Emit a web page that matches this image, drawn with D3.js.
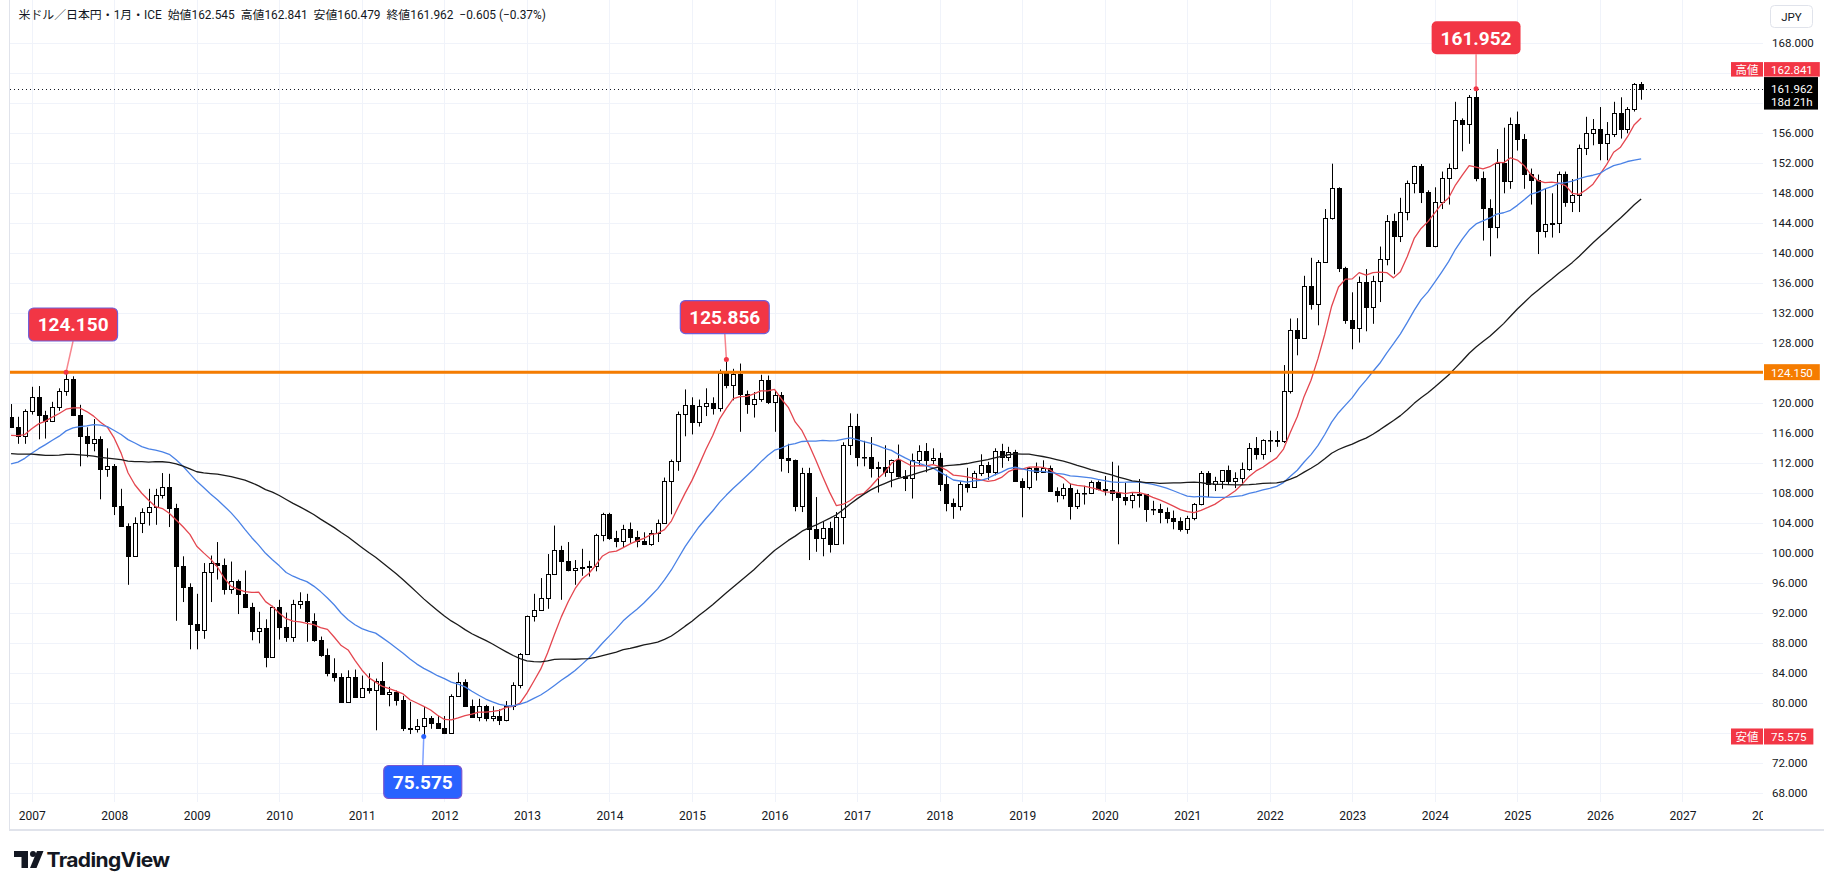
<!DOCTYPE html>
<html lang="ja"><head><meta charset="utf-8">
<script src="https://cdn.jsdelivr.net/npm/d3@7/dist/d3.min.js"></script>
<style>
html,body{margin:0;padding:0;background:#ffffff;overflow:hidden;}
svg{display:block;font-family:Roboto,"Noto Sans CJK JP",sans-serif;}
</style></head><body>
<svg id="chart" width="1824" height="890"></svg>
<script>
// ================= DATA (monthly USD/JPY, Oct 2006 – Jul 2026) =================
const firstMonth = new Date(2006, 9, 1);
const opens = [
118.2,116.9,115.7,
119.0,120.8,118.5,117.7,119.5,121.6,123.2,118.4,115.7,114.7,115.3,111.2,
111.7,106.3,103.7,99.7,104.0,105.5,106.2,107.8,108.8,106.0,98.3,95.5,
90.6,89.8,97.5,98.7,98.4,95.3,96.3,94.6,92.8,89.7,90.0,86.2,
92.9,90.2,88.8,93.3,93.7,91.0,88.4,86.4,84.0,83.5,80.2,83.5,
80.9,82.1,81.8,83.0,81.2,81.5,80.5,76.7,76.6,77.0,78.1,77.4,
76.7,76.1,81.0,82.8,79.6,78.2,79.6,78.0,78.3,77.8,79.7,82.4,
86.6,91.6,92.5,94.1,97.3,100.5,99.0,97.8,98.1,98.2,98.3,102.4,
105.2,102.0,101.7,103.2,102.2,101.6,101.3,102.7,104.1,109.6,112.3,118.6,
119.8,117.5,119.6,120.1,119.4,124.1,122.5,123.9,121.2,119.9,120.6,123.1,
120.2,121.1,112.7,112.5,106.3,110.7,103.3,102.1,103.4,101.3,104.8,114.5,
117.0,112.8,112.8,111.4,111.5,110.8,112.4,110.3,110.0,112.5,113.6,112.5,
112.7,109.2,106.7,106.3,109.3,108.8,110.7,111.8,110.9,113.7,112.9,113.5,
109.7,108.9,111.4,110.8,111.4,108.3,107.8,108.7,106.3,108.0,108.0,109.5,
108.6,108.4,108.1,107.5,107.1,107.8,107.9,105.9,105.9,105.5,104.7,104.3,
103.3,104.7,106.6,110.7,109.3,109.6,111.1,109.7,110.0,111.3,114.0,113.2,
115.1,115.1,115.0,121.7,129.8,128.7,135.7,133.3,138.9,144.7,148.7,138.1,
131.1,130.1,136.2,132.8,136.3,139.3,144.3,142.3,145.5,149.4,151.7,148.2,
141.0,146.9,150.0,151.4,157.8,157.3,160.9,150.0,146.1,143.5,152.0,149.7,
157.2,155.2,150.6,149.8,143.0,143.9,144.1,150.6,146.9,147.8,154.0,156.1,
156.6,154.7,155.9,158.7,156.6,159.2,162.545];
const highs = [
119.9,118.2,119.2,
122.2,122.3,119.0,120.2,122.0,124.15,123.6,119.8,116.8,117.9,115.6,114.0,
111.9,108.6,104.0,104.8,106.0,108.6,108.6,110.7,110.6,106.6,99.6,96.0,
94.6,98.7,99.7,101.5,99.3,98.9,96.5,97.7,93.4,92.2,91.2,93.0,
93.8,92.1,93.8,94.8,94.6,92.0,88.9,87.3,86.0,84.0,84.4,84.5,
83.7,84.0,83.3,85.5,82.2,81.7,81.0,80.2,77.9,79.5,78.3,78.3,
78.3,81.2,84.1,83.2,80.5,80.6,79.8,79.6,79.2,80.3,82.8,86.7,
91.7,94.6,96.7,99.9,103.7,101.0,101.5,99.1,100.6,99.0,102.6,105.4,
105.4,103.0,103.8,104.1,103.0,102.8,103.1,104.5,110.1,112.5,118.9,121.85,
120.8,120.5,122.0,120.8,124.5,125.856,124.6,125.3,121.7,121.5,123.8,123.7,
121.7,121.5,114.6,112.5,111.4,111.4,107.5,104.3,104.2,105.5,114.8,118.66,
118.6,115.0,115.5,112.2,114.4,112.5,114.5,111.1,113.3,114.4,114.7,114.0,
113.4,110.5,107.3,109.6,111.4,111.0,113.2,112.2,114.0,114.6,114.2,113.8,
110.0,111.5,112.1,112.4,111.7,108.8,109.3,109.3,108.5,109.0,109.7,109.7,
110.3,112.2,111.7,109.4,108.1,109.9,107.9,107.0,106.6,106.1,105.7,104.8,
105.0,106.7,110.97,110.96,110.2,111.1,111.7,110.8,112.1,114.7,115.5,115.2,
116.35,116.3,125.1,131.3,131.35,137.0,139.4,139.1,145.9,151.95,148.8,138.2,
134.8,136.9,137.9,137.0,140.9,145.1,145.3,147.4,149.7,151.7,151.9,148.4,
148.8,150.9,151.97,160.2,157.99,161.1,161.952,150.9,147.2,153.9,156.75,158.1,
158.9,155.9,151.3,150.5,148.6,148.0,150.9,150.9,149.9,154.5,158.2,157.9,
159.5,157.5,160.2,160.8,159.5,162.7,162.841];
const lows = [
116.7,114.6,114.6,
118.5,115.2,115.3,117.5,119.0,121.0,118.3,111.6,112.8,113.6,107.2,110.2,
105.1,103.6,95.8,99.6,102.7,103.7,103.8,107.3,103.5,91.0,93.5,87.2,
87.2,88.6,93.5,96.5,94.5,94.6,91.9,92.7,88.4,88.0,84.8,86.2,
88.5,88.2,88.2,92.6,88.2,88.2,86.2,83.6,82.9,80.2,80.2,80.9,
80.9,81.3,76.4,81.2,79.6,79.7,76.3,75.9,76.1,75.575,76.6,76.6,
75.9,76.1,80.9,79.6,78.2,77.6,77.6,77.6,77.1,77.6,79.1,82.0,
86.5,90.9,92.4,92.6,97.1,93.8,97.6,95.8,97.0,96.9,97.6,101.6,
101.8,100.8,100.8,101.4,100.8,101.1,101.0,101.5,104.0,105.2,111.0,115.6,
115.85,116.9,118.3,118.5,118.9,122.0,120.4,116.2,118.6,118.1,120.2,119.9,
116.2,110.9,110.7,105.6,105.5,99.1,100.2,99.6,100.1,101.2,101.2,113.1,
111.6,111.6,110.1,108.1,110.2,108.8,110.1,108.3,107.3,111.7,110.8,111.9,
108.3,105.6,104.6,105.7,108.1,108.8,110.3,109.8,110.4,111.4,112.3,109.6,
104.8,108.5,109.7,110.8,108.3,106.8,107.2,104.5,105.9,106.5,107.9,108.4,
107.7,107.0,101.2,106.4,106.0,106.1,104.2,105.1,104.0,104.0,103.2,102.9,
102.6,104.4,106.4,107.5,108.3,108.6,109.1,108.7,109.1,111.0,112.5,112.5,
113.5,114.2,114.7,121.3,126.4,128.7,132.5,130.4,138.8,144.5,137.5,130.6,
127.2,128.1,129.6,130.6,133.5,138.4,137.2,141.5,144.4,148.0,146.7,140.9,
140.8,145.9,146.5,151.2,153.6,154.6,149.6,141.7,139.6,142.0,148.0,148.6,
153.7,148.6,146.5,139.9,142.1,142.1,142.7,146.2,145.5,145.5,153.1,154.4,
152.4,152.4,155.5,155.3,156.0,158.9,160.479];
const closes = [
116.9,115.7,119.0,
120.8,118.5,117.7,119.5,121.6,123.2,118.4,115.7,114.7,115.3,111.2,111.7,
106.3,103.7,99.7,104.0,105.5,106.2,107.8,108.8,106.0,98.3,95.5,90.6,
89.8,97.5,98.7,98.4,95.3,96.3,94.6,92.8,89.7,90.0,86.2,92.9,
90.2,88.8,93.3,93.7,91.0,88.4,86.4,84.0,83.5,80.2,83.5,80.9,
82.1,81.8,83.0,81.2,81.5,80.5,76.7,76.6,77.0,78.1,77.4,76.7,
76.1,81.0,82.8,79.6,78.2,79.6,78.0,78.3,77.8,79.7,82.4,86.6,
91.6,92.5,94.1,97.3,100.5,99.0,97.8,98.1,98.2,98.3,102.4,105.2,
102.0,101.7,103.2,102.2,101.6,101.3,102.7,104.1,109.6,112.3,118.6,119.8,
117.5,119.6,120.1,119.4,124.1,122.5,123.9,121.2,119.9,120.6,123.1,120.2,
121.1,112.7,112.5,106.3,110.7,103.3,102.1,103.4,101.3,104.8,114.5,117.0,
112.8,112.8,111.4,111.5,110.8,112.4,110.3,110.0,112.5,113.6,112.5,112.7,
109.2,106.7,106.3,109.3,108.8,110.7,111.8,110.9,113.7,112.9,113.5,109.7,
108.9,111.4,110.8,111.4,108.3,107.8,108.7,106.3,108.0,108.0,109.5,108.6,
108.4,108.1,107.5,107.1,107.8,107.9,105.9,105.9,105.5,104.7,104.3,103.3,
104.7,106.6,110.7,109.3,109.6,111.1,109.7,110.0,111.3,114.0,113.2,115.1,
115.1,115.0,121.7,129.8,128.7,135.7,133.3,138.9,144.7,148.7,138.1,131.1,
130.1,136.2,132.8,136.3,139.3,144.3,142.3,145.5,149.4,151.7,148.2,141.0,
146.9,150.0,151.4,157.8,157.3,160.9,150.0,146.1,143.5,152.0,149.7,157.2,
155.2,150.6,149.8,143.0,143.9,144.1,150.6,146.9,147.8,154.0,156.1,156.6,
154.7,155.9,158.7,156.6,159.2,162.567,161.962];
// monthly closes Jul 2002 – Sep 2006 (before the first drawn bar), used only for the moving averages
const priorCloses = [
119.8,118.4,121.8,122.5,122.5,118.7,
119.9,118.0,118.1,119.1,119.3,119.8,120.0,116.8,111.4,109.6,109.4,107.2,
105.9,109.3,104.2,110.4,109.5,108.8,111.7,109.2,110.1,105.8,103.2,102.6,
103.6,104.6,107.2,104.9,108.3,110.8,112.5,110.6,113.5,116.4,119.8,117.8,
117.3,115.8,117.8,113.9,112.6,114.4,114.6,117.3,118.1];
const maPeriods = [9, 26, 52];
const maColors = ["#e4464f", "#4a82e6", "#1b1b1b"];
const yearLabels = ["2007","2008","2009","2010","2011","2012","2013","2014","2015","2016","2017","2018","2019","2020","2021","2022","2023","2024","2025","2026","2027","2028"];
const priceTicks = [68,72,76,80,84,88,92,96,100,104,108,112,116,120,124,128,132,136,140,144,148,152,156,160,164,168];
const hiddenTicks = [76,124,160,164];
const refLevel = 124.150;
const calloutLabels = ["124.150","125.856","161.952","75.575"];
const calloutMonths = ["2007-06","2015-06","2024-07","2011-10"];
const calloutPrices = [124.150,125.856,161.952,75.575];
const symbolTitle = "米ドル／日本円・1月・ICE";
const countdown = "18d 21h";

// ================= LAYOUT =================
const svg = d3.select("#chart");
const plot = {left:10, right:1763, top:0, bottom:802};
const firstX = 11.07, barStep = 6.878;
const months = d3.timeMonth.range(firstMonth, d3.timeMonth.offset(firstMonth, closes.length));
const monthKey = d3.timeFormat("%Y-%m");
const x = d3.scaleLinear().domain([0, 1]).range([firstX, firstX + barStep]);
const y = d3.scaleLinear().domain([68, 168]).range([793.3, 43.3]);
const ink = "#131722", grid = "#f0f3fa";
const n = closes.length;

svg.append("rect").attr("width",1824).attr("height",890).attr("fill","#fff");
const defs = svg.append("defs");
defs.append("clipPath").attr("id","clip").append("rect")
  .attr("x",plot.left).attr("y",plot.top).attr("width",plot.right-plot.left).attr("height",plot.bottom-plot.top);
defs.append("clipPath").attr("id","clipx").append("rect")
  .attr("x",0).attr("y",-10).attr("width",plot.right).attr("height",30);

// year tick indices (January bars)
const yearIdx = yearLabels.map(yl => (+yl - firstMonth.getFullYear())*12 - firstMonth.getMonth());

// grid
const gGrid = svg.append("g").attr("clip-path","url(#clip)");
gGrid.selectAll("line.h").data(priceTicks).join("line")
  .attr("x1",plot.left).attr("x2",plot.right)
  .attr("y1",d=>Math.round(y(d))+0.5).attr("y2",d=>Math.round(y(d))+0.5)
  .attr("stroke",grid).attr("stroke-width",1);
gGrid.selectAll("line.v").data(yearIdx).join("line")
  .attr("x1",d=>Math.round(x(d))+0.5).attr("x2",d=>Math.round(x(d))+0.5)
  .attr("y1",plot.top).attr("y2",plot.bottom)
  .attr("stroke",grid).attr("stroke-width",1);

// frame lines
svg.append("line").attr("x1",9.5).attr("x2",9.5).attr("y1",0).attr("y2",830).attr("stroke","#e0e3eb");
svg.append("line").attr("x1",9).attr("x2",1824).attr("y1",830).attr("y2",830).attr("stroke","#e0e3eb").attr("stroke-width",2);

// candles
const gC = svg.append("g").attr("clip-path","url(#clip)");
const bars = d3.range(n).map(i=>({i,o:opens[i],h:highs[i],l:lows[i],c:closes[i]}));
gC.selectAll("line.wick").data(bars).join("line")
  .attr("x1",d=>Math.round(x(d.i))+0.5).attr("x2",d=>Math.round(x(d.i))+0.5)
  .attr("y1",d=>y(d.h)).attr("y2",d=>y(d.l))
  .attr("stroke","#000").attr("stroke-width",1);
gC.selectAll("rect.body").data(bars).join("rect")
  .attr("x",d=>Math.round(x(d.i))-1.5).attr("width",4)
  .attr("y",d=>Math.round(y(Math.max(d.o,d.c)))+0.5)
  .attr("height",d=>Math.max(0.5, Math.round(y(Math.min(d.o,d.c))) - Math.round(y(Math.max(d.o,d.c)))))
  .attr("fill",d=>d.c>=d.o?"#ffffff":"#000000")
  .attr("stroke","#000").attr("stroke-width",1);

// moving averages
const allCloses = priorCloses.concat(closes);
const off = priorCloses.length;
function sma(p){
  return closes.map((c,i)=>{ const j=i+off; return j+1<p ? null : d3.mean(allCloses.slice(j-p+1,j+1)); });
}
const line = d3.line().defined(v=>v!=null).x((v,i)=>x(i)).y(v=>y(v));
const gMA = svg.append("g").attr("clip-path","url(#clip)");
maPeriods.forEach((p,k)=>{
  gMA.append("path").datum(sma(p)).attr("d",line)
    .attr("fill","none").attr("stroke",maColors[k]).attr("stroke-width",1.3).attr("stroke-linejoin","round");
});

// reference level line and last price dotted line
const gD = svg.append("g").attr("clip-path","url(#clip)");
gD.append("line").attr("x1",plot.left).attr("x2",plot.right)
  .attr("y1",y(refLevel)).attr("y2",y(refLevel)).attr("stroke","#f57c00").attr("stroke-width",3);
const lastClose = closes[n-1];
gD.append("line").attr("x1",plot.left).attr("x2",plot.right)
  .attr("y1",Math.round(y(lastClose))+0.5).attr("y2",Math.round(y(lastClose))+0.5)
  .attr("stroke",ink).attr("stroke-width",1).attr("stroke-dasharray","1,3");

// callouts
const calloutGeom = [
  {fill:"#f23645", stroke:"#6f5fd8", dx:7,    above:true,  gap:31.2},
  {fill:"#f23645", stroke:"#6f5fd8", dx:-1.6, above:true,  gap:25.8},
  {fill:"#f23645", stroke:"none",    dx:0,    above:true,  gap:34.4},
  {fill:"#2962ff", stroke:"#7a56d0", dx:-1,   above:false, gap:29}
];
calloutLabels.forEach((lab,k)=>{
  const g = calloutGeom[k];
  const idx = months.findIndex(m=>monthKey(m)===calloutMonths[k]);
  const ax = x(idx), ay = y(calloutPrices[k]);
  const cx = ax + g.dx;
  const gg = svg.append("g");
  const ln = gg.append("line"), dot = gg.append("circle"), box = gg.append("rect");
  const t = gg.append("text").text(lab).attr("font-size",19).attr("font-weight",700)
    .attr("fill","#fff").attr("text-anchor","middle").attr("dominant-baseline","central");
  const tw = t.node().getComputedTextLength();
  const bw = tw + 18, bh = 33;
  const top = g.above ? ay - g.gap - bh : ay + g.gap;
  const lineEndY = g.above ? top + bh : top;
  ln.attr("x1",cx).attr("y1",lineEndY).attr("x2",ax).attr("y2",ay)
    .attr("stroke",g.fill).attr("stroke-opacity",0.6).attr("stroke-width",1.5);
  dot.attr("cx",ax).attr("cy",ay).attr("r",2.5).attr("fill",g.fill);
  box.attr("x",cx-bw/2).attr("y",top).attr("width",bw).attr("height",bh)
    .attr("rx",5).attr("fill",g.fill).attr("stroke",g.stroke).attr("stroke-width",1.2);
  t.attr("x",cx).attr("y",top+bh/2+0.5);
});

// x axis
const xAxis = d3.axisBottom(x).tickValues(yearIdx).tickFormat((d,i)=>yearLabels[i]).tickSize(0).tickPadding(6);
const gx = svg.append("g").attr("transform","translate(0,805)").attr("clip-path","url(#clipx)").call(xAxis);
gx.select(".domain").remove();
gx.selectAll("text").attr("fill",ink).attr("font-size",12).attr("font-family","Roboto, sans-serif");

// y axis
const yAxis = d3.axisRight(y).tickValues(priceTicks.filter(t=>!hiddenTicks.includes(t)))
  .tickFormat(d=>d.toFixed(3)).tickSize(0).tickPadding(0);
const gy = svg.append("g").attr("transform","translate(1772,0)").call(yAxis);
gy.select(".domain").remove();
gy.selectAll("text").attr("fill",ink).attr("font-size",11.5).attr("font-family","Roboto, sans-serif");

// price-scale badges
function badge(x0, yTop, h, text, fill, padX, fs){
  const g = svg.append("g");
  const r = g.append("rect");
  const t = g.append("text").text(text).attr("font-size",fs||11.5).attr("fill","#fff")
    .attr("dominant-baseline","central");
  const tw = t.node().getComputedTextLength();
  const w = tw + 2*padX;
  r.attr("x",x0).attr("y",yTop).attr("width",w).attr("height",h).attr("fill",fill);
  t.attr("x",x0+padX).attr("y",yTop+h/2+0.5);
  return w;
}
const lastLow = d3.min(lows);
const yLast = y(lastClose);
// black last price box (2 lines)
svg.append("rect").attr("x",1764).attr("y",yLast-11.5).attr("width",54).attr("height",32.5).attr("fill","#000");
svg.append("text").text(lastClose.toFixed(3)).attr("x",1771).attr("y",yLast+0.5).attr("dominant-baseline","central")
  .attr("fill","#fff").attr("font-size",11.5);
svg.append("text").text(countdown).attr("x",1771).attr("y",yLast+13.5).attr("dominant-baseline","central")
  .attr("fill","#fff").attr("font-size",11.5);
// high badge (placed above last price box)
const hiTop = yLast - 11.5 - 15;
badge(1764, hiTop, 14.5, d3.max(highs).toFixed(3), "#f23645", 7);
badge(1731, hiTop, 14.5, "高値", "#f23645", 4.5, 11.5);
// reference level badge
badge(1764, y(refLevel)-8, 16, refLevel.toFixed(3), "#f57c00", 7);
// low badge
badge(1764, y(lastLow)-8, 16, lastLow.toFixed(3), "#f23645", 7);
badge(1731, y(lastLow)-8, 16, "安値", "#f23645", 4.5, 11.5);

// currency box
svg.append("rect").attr("x",1770.5).attr("y",5.5).attr("width",42).attr("height",22).attr("rx",4)
  .attr("fill","#fff").attr("stroke","#e0e3eb");
svg.append("text").text("JPY").attr("x",1791.5).attr("y",17).attr("text-anchor","middle")
  .attr("dominant-baseline","central").attr("font-size",11.5).attr("fill",ink);

// title legend
const chg = lastClose - closes[n-2];
const pct = chg / closes[n-2] * 100;
const fmtSigned = v => (v<0?"\u2212":"+") + Math.abs(v).toFixed(3);
const titleSegs = [
  symbolTitle,
  "始値" + opens[n-1].toFixed(3),
  "高値" + highs[n-1].toFixed(3),
  "安値" + lows[n-1].toFixed(3),
  "終値" + lastClose.toFixed(3),
  fmtSigned(chg) + " (" + (pct<0?"\u2212":"+") + Math.abs(pct).toFixed(2) + "%)"
];
const title = svg.append("text").attr("x",18.5).attr("y",14.5).attr("dominant-baseline","central")
  .attr("font-size",12).attr("fill",ink).attr("font-family",'Roboto,"Noto Sans CJK JP",sans-serif')
  .style("white-space","pre").text(titleSegs.join("  "));
const tl = title.node().getComputedTextLength();
title.attr("font-size", Math.min(13, 12*528/tl));

// TradingView logo
const gl = svg.append("g").attr("fill","#131722");
gl.append("rect").attr("x",14).attr("y",851).attr("width",14).attr("height",6);
gl.append("rect").attr("x",21.5).attr("y",851).attr("width",6.5).attr("height",17);
gl.append("circle").attr("cx",33).attr("cy",854).attr("r",3);
gl.append("polygon").attr("points","37,851 43.5,851 36.5,868 30,868");
gl.append("text").text("TradingView").attr("x",46.5).attr("y",866.5).attr("font-size",20)
  .attr("font-weight",700).attr("font-family","Inter, Roboto, sans-serif").attr("letter-spacing",-0.6)
  .attr("textLength",123).attr("lengthAdjust","spacingAndGlyphs");
</script>
</body></html>
